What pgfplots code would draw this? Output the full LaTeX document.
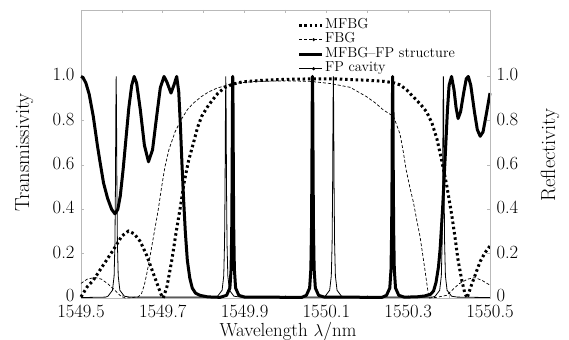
\documentclass[border=0pt]{standalone}
\usepackage{fontspec}
\usepackage{pgfplots}
\pgfplotsset{compat=1.18}
\begin{document}
\begin{tikzpicture}
\pgfplotsset{
  basestyle/.style={
    scale only axis, width=409bp, height=288bp,
    xmin=1549.5, xmax=1550.5, ymin=0, ymax=1.30,
    clip=false,
    axis line style={gray!55, line width=0.6bp},
    tick style={gray!55, line width=0.6bp},
    major tick length=3.5bp, minor tick length=3.5bp,
    tick align=inside,
    ytick={0,0.2,0.4,0.6,0.8,1.0},
    yticklabels={\raisebox{3bp}{0},0.2,0.4,0.6,0.8,1.0},
    ticklabel style={font=\fontsize{18.7}{22}\selectfont, black, inner sep=0.5bp},
    label style={font=\fontsize{20.5}{24}\selectfont},
  }
}
\begin{axis}[basestyle,
  xtick={1549.5,1549.7,1549.9,1550.1,1550.3,1550.5},
  xticklabels={1549.5,1549.7,1549.9,1550.1,1550.3,1550.5},
  minor xtick={1549.6,1549.8,1550.0,1550.2,1550.4},
  xticklabel style={yshift=-6bp},
  yticklabel style={xshift=-5.8bp, yshift=1.5bp},
  ytick pos=both, xtick pos=both,
  yticklabel pos=left, xticklabel pos=bottom,
  xlabel={Wavelength $\lambda$/nm},
  ylabel={Transmissivity},
  xlabel style={at={(axis description cs:0.506,-0.134)}, anchor=base, font=\fontsize{19}{24}\selectfont},
  ylabel style={at={(axis description cs:-0.139,0.505)}, anchor=center},
  legend style={at={(axis description cs:0.529,0.973)}, anchor=north west,
    draw=none, fill=none, font=\fontsize{14.5}{15}\selectfont,
    row sep=0bp, column sep=1.5bp, inner sep=0pt,
    nodes={inner sep=0pt, text height=10.5bp, text depth=4bp}},
  legend cell align=left,
]
% MFBG
\addplot[black, line width=3bp, dash pattern=on 2.5bp off 2.8bp,
  legend image code/.code={\draw[black, line width=3bp, dash pattern=on 2.5bp off 2.8bp] (0bp,0bp) -- (23bp,0bp);}]
coordinates {
(1549.500,0.005) (1549.515,0.05) (1549.530,0.08) (1549.555,0.15) (1549.579,0.217)
(1549.600,0.28) (1549.616,0.302) (1549.630,0.29) (1549.645,0.255) (1549.660,0.195)
(1549.675,0.12) (1549.688,0.055) (1549.696,0.015) (1549.701,0.0) (1549.710,0.05)
(1549.722,0.17) (1549.732,0.29) (1549.742,0.40) (1549.752,0.52) (1549.763,0.62)
(1549.775,0.70) (1549.785,0.77) (1549.795,0.82) (1549.810,0.865) (1549.820,0.89)
(1549.835,0.925) (1549.852,0.95) (1549.870,0.965) (1549.896,0.976) (1549.940,0.982)
(1550.000,0.987) (1550.060,0.989) (1550.120,0.989) (1550.160,0.986) (1550.200,0.983)
(1550.240,0.978) (1550.264,0.972) (1550.280,0.962) (1550.296,0.94) (1550.312,0.909)
(1550.330,0.875) (1550.345,0.84) (1550.358,0.79) (1550.370,0.72) (1550.382,0.62)
(1550.394,0.51) (1550.406,0.38) (1550.414,0.28) (1550.422,0.17) (1550.431,0.08)
(1550.438,0.025) (1550.444,0.0) (1550.455,0.06) (1550.465,0.11) (1550.476,0.165)
(1550.488,0.205) (1550.500,0.235)
};
\addlegendentry{MFBG}
% FBG
\addplot[black, line width=0.7bp, dash pattern=on 3bp off 2bp,
  legend image code/.code={\draw[black, line width=0.7bp, dash pattern=on 3bp off 2bp] (0bp,0bp) -- (23bp,0bp); \fill[black] (14.5bp,0bp) circle (1.2bp);}]
coordinates {
(1549.500,0.066) (1549.515,0.085) (1549.534,0.093) (1549.550,0.085) (1549.565,0.065)
(1549.580,0.04) (1549.595,0.012) (1549.608,0.0) (1549.625,0.002) (1549.640,0.005)
(1549.648,0.02) (1549.655,0.06) (1549.662,0.12) (1549.669,0.19) (1549.679,0.295)
(1549.689,0.40) (1549.697,0.50) (1549.705,0.59) (1549.715,0.67) (1549.730,0.75)
(1549.745,0.805) (1549.760,0.85) (1549.775,0.88) (1549.795,0.91) (1549.812,0.93)
(1549.832,0.947) (1549.855,0.96) (1549.880,0.97) (1549.930,0.978) (1550.000,0.98)
(1550.060,0.978) (1550.110,0.968) (1550.158,0.951) (1550.198,0.909) (1550.220,0.88)
(1550.239,0.849) (1550.264,0.82) (1550.280,0.74) (1550.288,0.66) (1550.295,0.578)
(1550.304,0.50) (1550.313,0.43) (1550.321,0.35) (1550.329,0.277) (1550.341,0.126)
(1550.349,0.02) (1550.352,0.0) (1550.370,0.003) (1550.394,0.012) (1550.410,0.04)
(1550.425,0.065) (1550.445,0.085) (1550.463,0.092) (1550.480,0.08) (1550.500,0.058)
};
\addlegendentry{FBG}
% MFBG-FP structure
\addplot[black, line width=3bp, line join=round,
  legend image code/.code={\draw[black, line width=3bp] (0bp,0bp) -- (23bp,0bp);}]
coordinates {
(1549.500,1.0) (1549.505,0.995) (1549.512,0.97) (1549.520,0.92) (1549.530,0.82)
(1549.540,0.69) (1549.546,0.62) (1549.555,0.52) (1549.565,0.45) (1549.575,0.40)
(1549.583,0.38) (1549.590,0.40) (1549.596,0.46) (1549.603,0.58) (1549.610,0.72)
(1549.617,0.86) (1549.624,0.96) (1549.630,1.0) (1549.636,0.97) (1549.645,0.85)
(1549.655,0.69) (1549.665,0.615) (1549.675,0.67) (1549.685,0.82) (1549.694,0.95)
(1549.703,1.0) (1549.710,0.975) (1549.720,0.925) (1549.727,0.96) (1549.734,1.0)
(1549.739,0.93) (1549.743,0.78) (1549.747,0.60) (1549.751,0.44) (1549.755,0.30)
(1549.760,0.17) (1549.766,0.09) (1549.772,0.045) (1549.780,0.022) (1549.791,0.012)
(1549.810,0.005) (1549.840,0.003) (1549.856,0.012)
(1549.864,0.045) (1549.867,0.13) (1549.8685,0.3) (1549.8695,0.55) (1549.8702,0.85) (1549.871,1.0)
(1549.8718,0.85) (1549.8725,0.55) (1549.8735,0.3) (1549.875,0.13) (1549.878,0.045)
(1549.886,0.012) (1549.900,0.004) (1550.040,0.003) (1550.051,0.012)
(1550.059,0.045) (1550.062,0.13) (1550.0635,0.3) (1550.0645,0.55) (1550.0652,0.85) (1550.066,1.0)
(1550.0668,0.85) (1550.0675,0.55) (1550.0685,0.3) (1550.070,0.13) (1550.073,0.045)
(1550.081,0.012) (1550.095,0.004) (1550.236,0.003) (1550.247,0.012)
(1550.255,0.045) (1550.258,0.13) (1550.2595,0.3) (1550.2605,0.55) (1550.2612,0.85) (1550.262,1.0)
(1550.2628,0.85) (1550.2635,0.55) (1550.2645,0.3) (1550.266,0.13) (1550.269,0.045)
(1550.277,0.012) (1550.290,0.004) (1550.320,0.005) (1550.340,0.009) (1550.355,0.017)
(1550.362,0.032) (1550.368,0.07) (1550.374,0.14) (1550.378,0.22) (1550.384,0.40)
(1550.390,0.62) (1550.396,0.85) (1550.400,0.96) (1550.406,1.0) (1550.412,0.94)
(1550.417,0.86) (1550.422,0.81) (1550.428,0.84) (1550.436,0.93) (1550.442,0.99)
(1550.447,1.0) (1550.453,0.96) (1550.462,0.84) (1550.469,0.76) (1550.476,0.73)
(1550.483,0.75) (1550.491,0.83) (1550.500,0.925)
};
\addlegendentry{MFBG–FP structure}
% FP cavity
\addplot[black, line width=0.8bp,
  legend image code/.code={\draw[black, line width=0.8bp] (0bp,0bp) -- (23bp,0bp); \fill[black] (14.5bp,0bp) circle (1.2bp);}]
coordinates {
(1549.500,0.002) (1549.560,0.004) (1549.566,0.008) (1549.577,0.035) (1549.581,0.1)
(1549.583,0.25) (1549.5842,0.5) (1549.5852,0.85) (1549.586,1.0) (1549.5868,0.85)
(1549.5878,0.5) (1549.589,0.25) (1549.591,0.1) (1549.595,0.035) (1549.606,0.008)
(1549.620,0.004) (1549.828,0.004) (1549.834,0.008) (1549.845,0.035) (1549.849,0.1)
(1549.851,0.25) (1549.8522,0.5) (1549.8532,0.85) (1549.854,1.0) (1549.8548,0.85)
(1549.8558,0.5) (1549.857,0.25) (1549.859,0.1) (1549.863,0.035) (1549.874,0.008)
(1549.890,0.004) (1550.091,0.004) (1550.097,0.008) (1550.108,0.035) (1550.112,0.1)
(1550.114,0.25) (1550.1152,0.5) (1550.1162,0.85) (1550.117,1.0) (1550.1178,0.85)
(1550.1188,0.5) (1550.120,0.25) (1550.122,0.1) (1550.126,0.035) (1550.137,0.008)
(1550.150,0.004) (1550.360,0.004) (1550.366,0.008) (1550.377,0.035) (1550.381,0.1)
(1550.383,0.25) (1550.3842,0.5) (1550.3852,0.85) (1550.386,1.0) (1550.3868,0.85)
(1550.3878,0.5) (1550.389,0.25) (1550.391,0.1) (1550.395,0.035) (1550.406,0.008)
(1550.420,0.004) (1550.500,0.002)
};
\addlegendentry{FP cavity}
\end{axis}
\begin{axis}[basestyle,
  axis x line=none, axis y line*=right,
  yticklabel style={xshift=5.8bp, yshift=1.5bp},
  ylabel={Reflectivity},
  ylabel style={at={(axis description cs:1.147,0.497)}, anchor=center},
]
\addplot[draw=none] coordinates {(1549.5,0) (1550.5,1)};
\end{axis}
\pgfresetboundingbox
\useasboundingbox (current axis.south west) ++(-81bp,-42bp) rectangle ++(569bp,340bp);
\end{tikzpicture}
\end{document}
